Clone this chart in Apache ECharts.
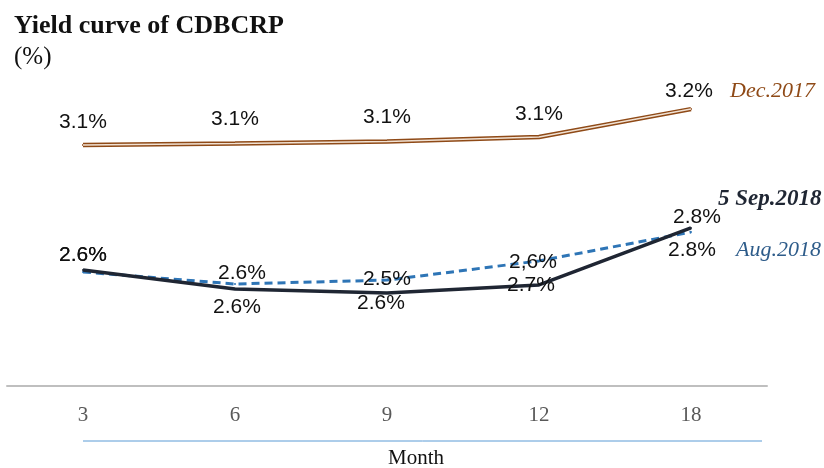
<!DOCTYPE html>
<html>
<head>
<meta charset="utf-8">
<title>Yield curve of CDBCRP</title>
<script src="https://cdn.jsdelivr.net/npm/echarts@6/dist/echarts.min.js"></script>
<style>
  html, body { margin: 0; padding: 0; background: #fff; }
  #chart { width: 824px; height: 468px; }
</style>
</head>
<body>
<div id="chart"></div>
<script type="text/javascript">
// tenors (months)
var months = ['3', '6', '9', '12', '18'];

// yields in %
var dec2017 = [3.103, 3.108, 3.115, 3.13, 3.223];
var sep2018 = [2.687, 2.623, 2.61, 2.637, 2.827];
var aug2018 = [2.68, 2.64, 2.653, 2.717, 2.813];

// label texts as printed on the chart
var decLabels = ['3.1%', '3.1%', '3.1%', '3.1%', '3.2%'];
var sepLabels = ['2.6%', '2.6%', '2.6%', '2.7%', '2.8%'];
var augLabels = ['2.6%', '2.6%', '2.5%', '2,6%', '2.8%'];

var labelFont = { fontFamily: 'Liberation Sans', fontSize: 21, color: '#111' };

// per point label shift from the point
function points(values, texts, shifts) {
    return values.map(function (v, i) {
        return {
            value: v,
            label: { formatter: texts[i], offset: shifts[i] }
        };
    });
}

var myChart = echarts.init(document.getElementById('chart'));

var option = {
    animation: false,
    title: {
        text: 'Yield curve of CDBCRP',
        subtext: '(%)',
        left: 9,
        top: 8,
        itemGap: 6,
        textStyle: { fontFamily: 'Liberation Serif', fontWeight: 'bold', fontSize: 26, color: '#111' },
        subtextStyle: { fontFamily: 'Liberation Serif', fontSize: 25, color: '#111' }
    },
    grid: { left: 7, right: 57, top: 86, bottom: 82 },
    xAxis: {
        type: 'category',
        data: months,
        boundaryGap: true,
        axisLine: { lineStyle: { color: '#bfbfbf', width: 2 } },
        axisTick: { show: false },
        axisLabel: { margin: 19, fontFamily: 'Liberation Serif', fontSize: 21, color: '#595959' }
    },
    yAxis: {
        type: 'value',
        min: 2.3,
        max: 3.3,
        show: false,
        splitLine: { show: false }
    },
    graphic: [
        {
            type: 'line',
            shape: { x1: 83, y1: 441, x2: 762, y2: 441 },
            style: { stroke: '#5b9bd5', lineWidth: 1 }
        },
        {
            type: 'text',
            left: 388,
            top: 448,
            style: { text: 'Month', fontFamily: 'Liberation Serif', fontSize: 21, fill: '#111' }
        }
    ],
    series: [
        {
            name: 'Dec.2017',
            type: 'line',
            data: points(dec2017, decLabels, [[0, -23], [0, -24], [0, -24], [0, -23], [-2, -18]]),
            symbol: 'circle',
            symbolSize: 2,
            itemStyle: { color: '#8f4a17' },
            lineStyle: { color: '#8f4a17', width: 4.5 },
            label: Object.assign({ show: true, position: 'inside' }, labelFont),
            endLabel: {
                show: true,
                formatter: '{a}',
                offset: [31, -18],
                fontFamily: 'Liberation Serif',
                fontStyle: 'italic',
                fontSize: 22,
                color: '#8f4a17'
            },
            z: 3
        },
        {
            name: 'Dec.2017 inner',
            type: 'line',
            data: dec2017,
            symbol: 'none',
            silent: true,
            lineStyle: { color: '#f1e2d4', width: 1.5 },
            z: 4
        },
        {
            name: 'Aug.2018',
            type: 'line',
            data: points(aug2018, augLabels, [[0, -17], [7, -11], [0, -1], [-6, 1], [1, 18]]),
            symbol: 'circle',
            symbolSize: 2,
            itemStyle: { color: '#2e75b6' },
            lineStyle: { color: '#2e75b6', width: 3, type: [8, 5] },
            label: Object.assign({ show: true, position: 'inside' }, labelFont),
            endLabel: {
                show: true,
                formatter: '{a}',
                offset: [37, 18],
                fontFamily: 'Liberation Serif',
                fontStyle: 'italic',
                fontSize: 22,
                color: '#2e5c8a'
            },
            z: 5
        },
        {
            name: '5 Sep.2018',
            type: 'line',
            data: points(sep2018, sepLabels, [[0, -15], [2, 18], [-6, 10], [-8, 0], [6, -11]]),
            symbol: 'circle',
            symbolSize: 2,
            itemStyle: { color: '#1f2633' },
            lineStyle: { color: '#1f2633', width: 3.5 },
            label: Object.assign({ show: true, position: 'inside' }, labelFont),
            endLabel: {
                show: true,
                formatter: '{a}',
                offset: [19, -29],
                fontFamily: 'Liberation Serif',
                fontStyle: 'italic',
                fontWeight: 'bold',
                fontSize: 23,
                color: '#1f2633'
            },
            z: 6
        }
    ]
};
myChart.setOption(option);
</script>
</body>
</html>
